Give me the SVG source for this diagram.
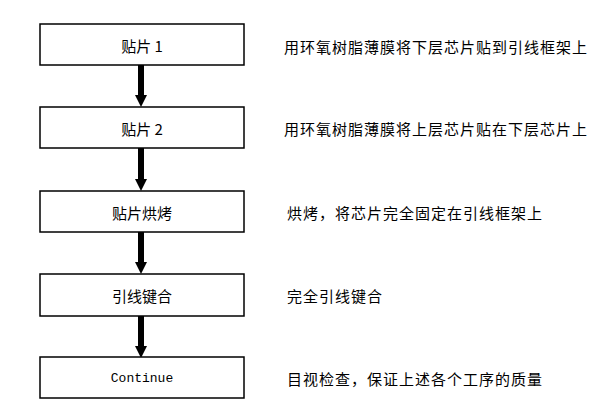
<svg xmlns="http://www.w3.org/2000/svg" width="609" height="409" viewBox="0 0 609 409">
<style>
.box{fill:#fff;stroke:#000;stroke-width:1.5}
.lbl{font-family:"Noto Sans CJK SC","Liberation Sans",sans-serif;font-size:15px;fill:#000;text-anchor:middle;dominant-baseline:central}
.mono{font-family:"Liberation Mono",monospace;font-size:13px}
.desc{font-family:"Noto Sans CJK SC","Liberation Sans",sans-serif;font-size:15px;letter-spacing:1px;fill:#000;dominant-baseline:central}
.shaft{stroke:#000;stroke-width:6}
</style>
<defs>
<marker id="ah" markerWidth="12" markerHeight="12" refX="0" refY="6" orient="auto" markerUnits="userSpaceOnUse">
<path d="M0,0 L12,6 L0,12 Z" fill="#000"/>
</marker>
</defs>
<rect width="609" height="409" fill="#fff"/>
<g id="connectors">
<line class="shaft" x1="141" y1="65" x2="141" y2="95" marker-end="url(#ah)"/>
<line class="shaft" x1="141" y1="148" x2="141" y2="179" marker-end="url(#ah)"/>
<line class="shaft" x1="141" y1="232" x2="141" y2="262" marker-end="url(#ah)"/>
<line class="shaft" x1="141" y1="316" x2="141" y2="346" marker-end="url(#ah)"/>
</g>
<g id="n1"><rect class="box" x="40" y="24" width="204" height="41"/><text class="lbl" x="142" y="45">贴片 1</text></g>
<g id="n2"><rect class="box" x="40" y="107" width="204" height="41"/><text class="lbl" x="142" y="128">贴片 2</text></g>
<g id="n3"><rect class="box" x="40" y="191" width="204" height="41"/><text class="lbl" x="142" y="212">贴片烘烤</text></g>
<g id="n4"><rect class="box" x="40" y="274" width="204" height="42"/><text class="lbl" x="142" y="295">引线键合</text></g>
<g id="n5"><rect class="box" x="40" y="357" width="204" height="41"/><text class="lbl mono" x="142" y="378">Continue</text></g>
<g id="descs">
<text class="desc" x="284" y="46">用环氧树脂薄膜将下层芯片贴到引线框架上</text>
<text class="desc" x="284" y="128">用环氧树脂薄膜将上层芯片贴在下层芯片上</text>
<text class="desc" x="287" y="212">烘烤，将芯片完全固定在引线框架上</text>
<text class="desc" x="287" y="295">完全引线键合</text>
<text class="desc" x="287" y="378">目视检查，保证上述各个工序的质量</text>
</g>
</svg>
